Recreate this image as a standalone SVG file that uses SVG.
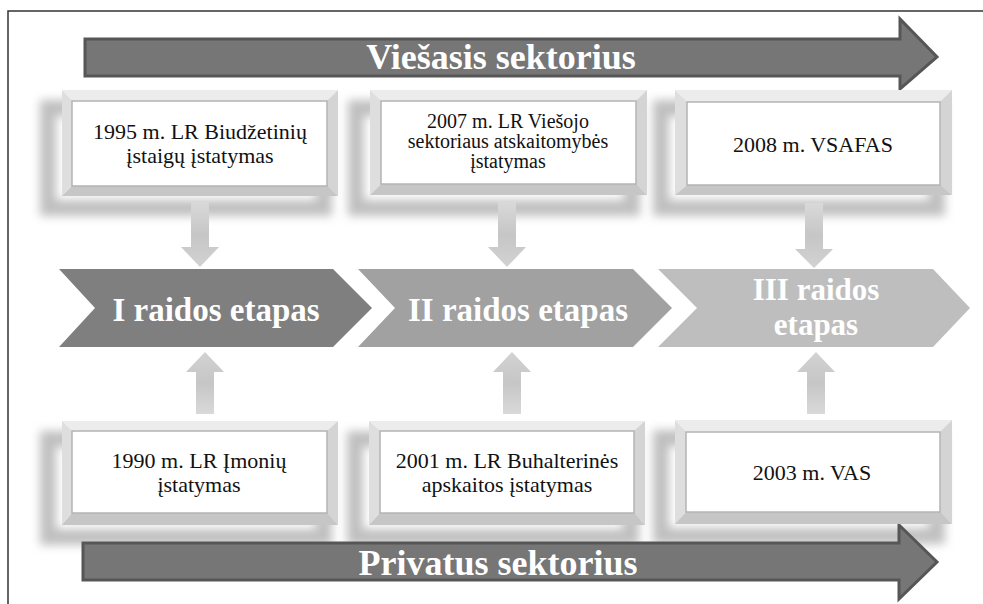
<svg xmlns="http://www.w3.org/2000/svg" width="983" height="604" viewBox="0 0 983 604">
<style>
.big{font-family:"Liberation Serif","Times New Roman",serif;font-weight:bold;fill:#ffffff;text-anchor:middle}
.bt{font-family:"Liberation Serif","Times New Roman",serif;fill:#111111;text-anchor:middle}
.arrowbig{fill:#767676;stroke:#565656;stroke-width:3;stroke-linejoin:miter}
.shadow{fill:none;stroke:#c0c0c0;stroke-width:16;filter:url(#blur)}
.bevT{fill:#ececec}
.bevL{fill:#dedede}
.bevR{fill:#d4d4d4}
.bevB{fill:#c6c6c6}
.inner{fill:#ffffff;stroke:#b4b4b4;stroke-width:1.5}
.vconn{fill:url(#vgrad)}
</style>
<defs>
<filter id="blur" x="-20%" y="-30%" width="140%" height="160%"><feGaussianBlur stdDeviation="5"/></filter>
<linearGradient id="vgrad" x1="0" y1="0" x2="0" y2="1"><stop offset="0" stop-color="#d9d9d9"/><stop offset="0.5" stop-color="#c6c6c6"/><stop offset="1" stop-color="#d2d2d2"/></linearGradient>
<linearGradient id="vgradU" x1="0" y1="1" x2="0" y2="0"><stop offset="0" stop-color="#d9d9d9"/><stop offset="0.5" stop-color="#c6c6c6"/><stop offset="1" stop-color="#d2d2d2"/></linearGradient>
</defs>
<rect width="983" height="604" fill="#ffffff"/>
<path d="M8,604 V11 H983" fill="none" stroke="#333333" stroke-width="1.5"/>

<g id="shadows">
<rect class="shadow" x="48" y="108" width="276" height="100"/>
<rect class="shadow" x="356" y="108" width="276" height="100"/>
<rect class="shadow" x="661" y="108" width="276" height="100"/>
<rect class="shadow" x="48" y="439" width="276" height="98"/>
<rect class="shadow" x="355" y="439" width="276" height="98"/>
<rect class="shadow" x="661" y="438" width="276" height="98"/>
</g>

<g id="viesasis">
<path class="arrowbig" d="M85,39 H900 V19 L937,57 L900,89 V76 H85 Z"/>
<text class="big" x="501" y="69" font-size="36">Viešasis sektorius</text>
</g>

<g id="privatus">
<path class="arrowbig" d="M83,543 H899 V525 L937,562 L899,599 V580 H83 Z"/>
<text class="big" x="498" y="575" font-size="36">Privatus sektorius</text>
</g>

<g id="connectors">
<path class="vconn" d="M191,202 H209 V247 H219 L200,267 L181,247 H191 Z"/>
<path class="vconn" d="M498,202 H516 V247 H526 L507,267 L488,247 H498 Z"/>
<path class="vconn" d="M805,203 H823 V249 H833 L814,268 L795,249 H805 Z"/>
<path d="M196,414 H214 V372 H224 L205,352 L186,372 H196 Z" fill="url(#vgradU)"/>
<path d="M503,414 H521 V372 H531 L512,352 L493,372 H503 Z" fill="url(#vgradU)"/>
<path d="M807,414 H825 V372 H835 L816,352 L797,372 H807 Z" fill="url(#vgradU)"/>
</g>

<g id="etapas1">
<path d="M59,269 H333 L372,308 L333,347 H59 L95,308 Z" fill="#7f7f7f"/>
<text class="big" x="216" y="321" font-size="33">I raidos etapas</text>
</g>
<g id="etapas2">
<path d="M358,269 H633 L672,308 L633,347 H358 L395,308 Z" fill="#a1a1a1"/>
<text class="big" x="518" y="321" font-size="33">II raidos etapas</text>
</g>
<g id="etapas3">
<path d="M658,269 H933 L970,308 L933,347 H658 L697,308 Z" fill="#bebebe"/>
<text class="big" x="816" y="300" font-size="31">III raidos</text>
<text class="big" x="816" y="335" font-size="31">etapas</text>
</g>

<g id="box1995">
<path class="bevT" d="M62,90 H338 L327,101 H72 Z"/>
<path class="bevL" d="M62,90 L72,101 V186 L62,196 Z"/>
<path class="bevR" d="M338,90 V196 L327,186 V101 Z"/>
<path class="bevB" d="M62,196 L72,186 H327 L338,196 Z"/>
<rect class="inner" x="72" y="101" width="255" height="85"/>
<text class="bt" x="200" y="139" font-size="22">1995 m. LR Biudžetinių</text>
<text class="bt" x="200" y="163" font-size="22">įstaigų įstatymas</text>
</g>

<g id="box2007">
<path class="bevT" d="M370,90 H647 L636,101 H381 Z"/>
<path class="bevL" d="M370,90 L381,101 V184 L370,195 Z"/>
<path class="bevR" d="M647,90 V195 L636,184 V101 Z"/>
<path class="bevB" d="M370,195 L381,184 H636 L647,195 Z"/>
<rect class="inner" x="381" y="101" width="255" height="83"/>
<text class="bt" x="508" y="128" font-size="20">2007 m. LR Viešojo</text>
<text class="bt" x="508" y="148" font-size="20">sektoriaus atskaitomybės</text>
<text class="bt" x="508" y="168" font-size="20">įstatymas</text>
</g>

<g id="box2008">
<path class="bevT" d="M675,90 H952 L940,102 H687 Z"/>
<path class="bevL" d="M675,90 L687,102 V185 L675,195 Z"/>
<path class="bevR" d="M952,90 V195 L940,185 V102 Z"/>
<path class="bevB" d="M675,195 L687,185 H940 L952,195 Z"/>
<rect class="inner" x="687" y="102" width="253" height="83"/>
<text class="bt" x="813" y="152" font-size="22">2008 m. VSAFAS</text>
</g>

<g id="box1990">
<path class="bevT" d="M62,421 H338 L327,431 H72 Z"/>
<path class="bevL" d="M62,421 L72,431 V513 L62,525 Z"/>
<path class="bevR" d="M338,421 V525 L327,513 V431 Z"/>
<path class="bevB" d="M62,525 L72,513 H327 L338,525 Z"/>
<rect class="inner" x="72" y="431" width="255" height="82"/>
<text class="bt" x="199" y="468" font-size="22">1990 m. LR Įmonių</text>
<text class="bt" x="199" y="492" font-size="22">įstatymas</text>
</g>

<g id="box2001">
<path class="bevT" d="M369,421 H645 L634,431 H380 Z"/>
<path class="bevL" d="M369,421 L380,431 V513 L369,525 Z"/>
<path class="bevR" d="M645,421 V525 L634,513 V431 Z"/>
<path class="bevB" d="M369,525 L380,513 H634 L645,525 Z"/>
<rect class="inner" x="380" y="431" width="254" height="82"/>
<text class="bt" x="507" y="468" font-size="22">2001 m. LR Buhalterinės</text>
<text class="bt" x="507" y="492" font-size="22">apskaitos įstatymas</text>
</g>

<g id="box2003">
<path class="bevT" d="M675,420 H952 L940,432 H686 Z"/>
<path class="bevL" d="M675,420 L686,432 V512 L675,524 Z"/>
<path class="bevR" d="M952,420 V524 L940,512 V432 Z"/>
<path class="bevB" d="M675,524 L686,512 H940 L952,524 Z"/>
<rect class="inner" x="686" y="432" width="254" height="80"/>
<text class="bt" x="812" y="480" font-size="22">2003 m. VAS</text>
</g>
</svg>
